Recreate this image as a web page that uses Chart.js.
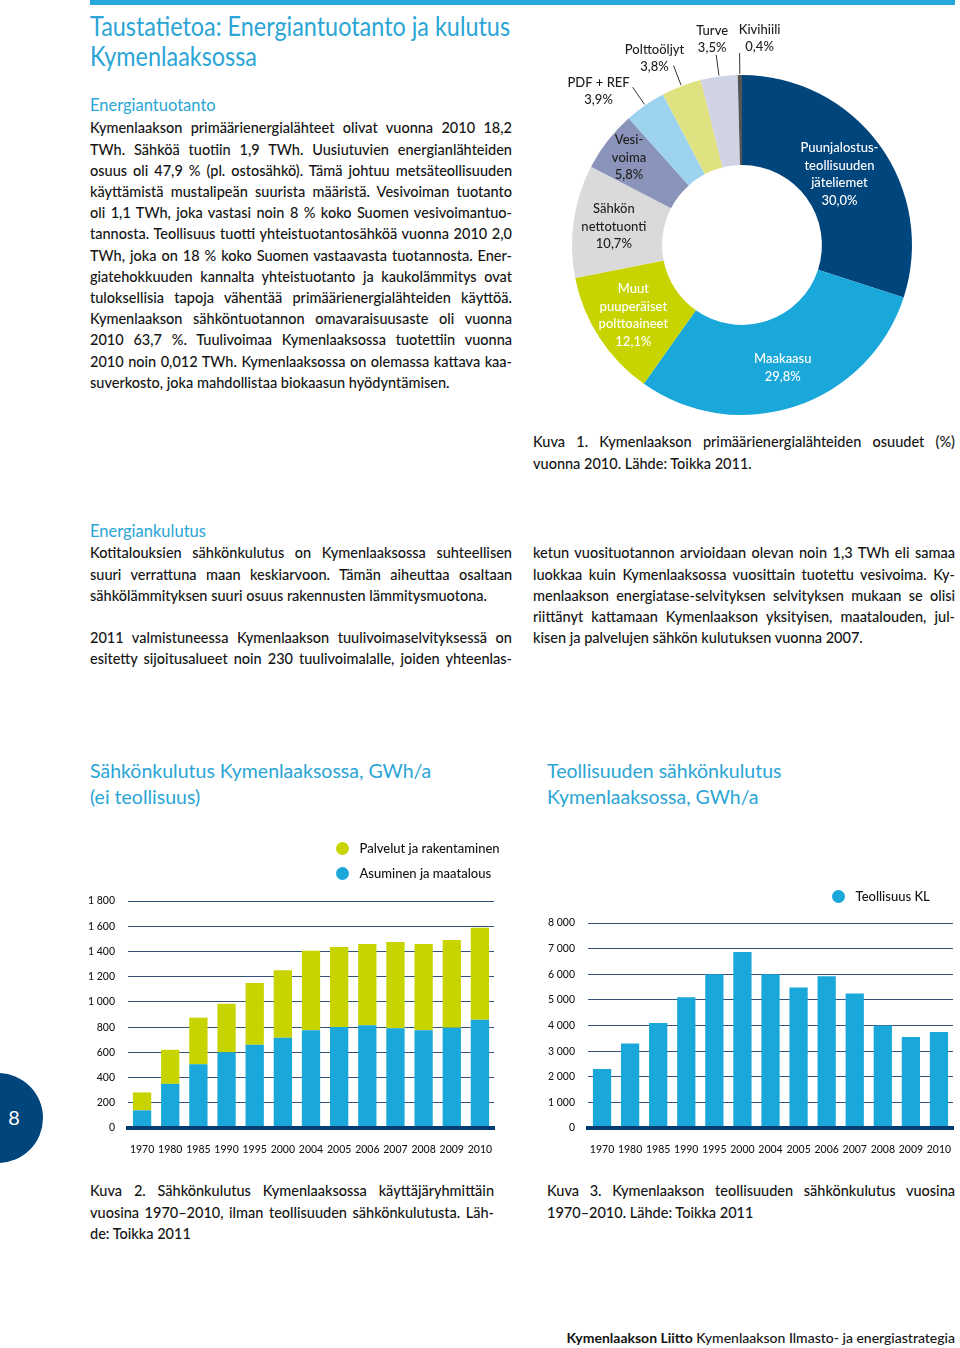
<!DOCTYPE html>
<html>
<head>
<meta charset="utf-8">
<script src="https://cdn.jsdelivr.net/npm/chart.js@4/dist/chart.umd.min.js"></script>
<style>
  body { margin: 0; width: 960px; height: 1348px; position: relative; overflow: hidden; background: #fff;
         font-family: Lato, "Noto Sans", sans-serif; color: #141414; }
  .abs { position: absolute; }
  .cyan { color: #2aa5d5; }
  .blk { position: absolute; font-size: 14.5px; line-height: 21.2px; font-weight: 500; }
  .blk div { text-align: justify; text-align-last: justify; }
  .blk div.l { text-align-last: left; }
  .title { font-size: 26px; line-height: 29.5px; transform: scaleX(0.9); transform-origin: 0 0; white-space: nowrap; }
  .sub { font-size: 16.5px; line-height: 20px; }
  .ctitle { font-size: 19.5px; line-height: 26px; }
  canvas { position: absolute; }
  .legend { position: absolute; font-size: 13px; font-weight: 500; }
  .legend .it { height: 25px; display: flex; align-items: center; }
  .legend .dot { width: 13px; height: 13px; border-radius: 50%; margin-right: 11px; }
</style>
</head>
<body>

<div class="abs" style="left:90px;top:0;width:865px;height:5px;background:#27a8dd"></div>

<div class="abs cyan title" style="left:90px;top:12px">Taustatietoa: Energiantuotanto ja kulutus<br>Kymenlaaksossa</div>

<div class="abs cyan sub" style="left:90px;top:95px">Energiantuotanto</div>
<div class="blk" style="left:90px;top:117.4px;width:422px">
  <div>Kymenlaakson primäärienergialähteet olivat vuonna 2010 18,2</div>
  <div>TWh. Sähköä tuotiin 1,9 TWh. Uusiutuvien energianlähteiden</div>
  <div>osuus oli 47,9 % (pl. ostosähkö). Tämä johtuu metsäteollisuuden</div>
  <div>käyttämistä mustalipeän suurista määristä. Vesivoiman tuotanto</div>
  <div>oli 1,1 TWh, joka vastasi noin 8 % koko Suomen vesivoimantuo-</div>
  <div>tannosta. Teollisuus tuotti yhteistuotantosähköä vuonna 2010 2,0</div>
  <div>TWh, joka on 18 % koko Suomen vastaavasta tuotannosta. Ener-</div>
  <div>giatehokkuuden kannalta yhteistuotanto ja kaukolämmitys ovat</div>
  <div>tuloksellisia tapoja vähentää primäärienergialähteiden käyttöä.</div>
  <div>Kymenlaakson sähköntuotannon omavaraisuusaste oli vuonna</div>
  <div>2010 63,7 %. Tuulivoimaa Kymenlaaksossa tuotettiin vuonna</div>
  <div>2010 noin 0,012 TWh. Kymenlaaksossa on olemassa kattava kaa-</div>
  <div class="l">suverkosto, joka mahdollistaa biokaasun hyödyntämisen.</div>
</div>

<canvas id="donut" width="400" height="420" style="left:560px;top:0"></canvas>

<div class="blk" style="left:533px;top:431.4px;width:422px">
  <div>Kuva 1. Kymenlaakson primäärienergialähteiden osuudet (%)</div>
  <div class="l">vuonna 2010. Lähde: Toikka 2011.</div>
</div>

<div class="abs cyan sub" style="left:90px;top:521px">Energiankulutus</div>
<div class="blk" style="left:90px;top:542.4px;width:422px">
  <div>Kotitalouksien sähkönkulutus on Kymenlaaksossa suhteellisen</div>
  <div>suuri verrattuna maan keskiarvoon. Tämän aiheuttaa osaltaan</div>
  <div class="l">sähkölämmityksen suuri osuus rakennusten lämmitysmuotona.</div>
  <div class="l">&nbsp;</div>
  <div>2011 valmistuneessa Kymenlaakson tuulivoimaselvityksessä on</div>
  <div>esitetty sijoitusalueet noin 230 tuulivoimalalle, joiden yhteenlas-</div>
</div>
<div class="blk" style="left:533px;top:542.4px;width:422px">
  <div>ketun vuosituotannon arvioidaan olevan noin 1,3 TWh eli samaa</div>
  <div>luokkaa kuin Kymenlaaksossa vuosittain tuotettu vesivoima. Ky-</div>
  <div>menlaakson energiatase-selvityksen selvityksen mukaan se olisi</div>
  <div>riittänyt kattamaan Kymenlaakson yksityisen, maatalouden, jul-</div>
  <div class="l">kisen ja palvelujen sähkön kulutuksen vuonna 2007.</div>
</div>

<div class="abs cyan ctitle" style="left:90px;top:758px">Sähkönkulutus Kymenlaaksossa, GWh/a<br>(ei teollisuus)</div>
<div class="abs cyan ctitle" style="left:547px;top:758px">Teollisuuden sähkönkulutus<br>Kymenlaaksossa, GWh/a</div>

<canvas id="homes" width="420" height="280" style="left:80px;top:880px"></canvas>
<canvas id="industry" width="420" height="280" style="left:540px;top:880px"></canvas>
<div class="legend" id="legend2" style="left:335.5px;top:835.5px"></div>
<div class="legend" id="legend3" style="left:831.5px;top:883.5px"></div>

<div class="abs" style="left:-47px;top:1073px;width:90px;height:90px;border-radius:50%;background:#00457c"></div>
<div class="abs" style="left:0;top:1104px;width:28px;text-align:center;color:#fff;font-size:20px;line-height:26px">8</div>

<div class="blk" style="left:90px;top:1180.4px;width:404px">
  <div>Kuva 2. Sähkönkulutus Kymenlaaksossa käyttäjäryhmittäin</div>
  <div>vuosina 1970–2010, ilman teollisuuden sähkönkulutusta. Läh-</div>
  <div class="l">de: Toikka 2011</div>
</div>
<div class="blk" style="left:547px;top:1180.4px;width:408px">
  <div>Kuva 3. Kymenlaakson teollisuuden sähkönkulutus vuosina</div>
  <div class="l">1970–2010. Lähde: Toikka 2011</div>
</div>

<div class="abs" style="right:5px;top:1329px;font-size:14px;line-height:18px;font-weight:500"><b>Kymenlaakson Liitto</b> Kymenlaakson Ilmasto- ja energiastrategia</div>

<script>
// donut: primary energy sources 2010, %
const sources = ['Puunjalostusteollisuuden jäteliemet', 'Maakaasu', 'Muut puuperäiset polttoaineet',
  'Sähkön nettotuonti', 'Vesivoima', 'PDF + REF', 'Polttoöljyt', 'Turve', 'Kivihiili']
const shares = [30.0, 29.8, 12.1, 10.7, 5.8, 3.9, 3.8, 3.5, 0.4]
const sliceLabelLines = [
  ['Puunjalostus-', 'teollisuuden', 'jäteliemet'], ['Maakaasu'], ['Muut', 'puuperäiset', 'polttoaineet'],
  ['Sähkön', 'nettotuonti'], ['Vesi-', 'voima'], ['PDF + REF'], ['Polttoöljyt'], ['Turve'], ['Kivihiili']
]

// bar charts: GWh/a
const years = ['1970', '1980', '1985', '1990', '1995', '2000', '2004', '2005', '2006', '2007', '2008', '2009', '2010']
const asuminen = [140, 350, 505, 600, 660, 715, 775, 800, 815, 790, 775, 795, 858]
const palvelut = [142, 270, 370, 385, 490, 535, 630, 635, 645, 685, 685, 695, 730]
const teollisuus = [2300, 3300, 4100, 5100, 6000, 6870, 6000, 5480, 5920, 5250, 4000, 3550, 3750]

const sliceColors = ['#00457c', '#1aa7da', '#c8d400', '#dadada', '#8a93b9', '#9dd3ef', '#e0e282', '#cfd3e4', '#555555']
const CYAN = '#1aa7da', LIME = '#c8d400'

// label placement: inside -> fraction across ring; outside -> leader + offset
const labelPlacement = [
  {inside: true, f: 0.45, color: '#fff'},
  {inside: true, f: 0.55, color: '#fff'},
  {inside: true, f: 0.55, color: '#fff'},
  {inside: true, f: 0.55, color: '#1d1d1b'},
  {inside: true, f: 0.7, color: '#1d1d1b'},
  {inside: false, dx: -34, dy: -4, color: '#1d1d1b'},
  {inside: false, dx: -19, dy: -16, color: '#1d1d1b'},
  {inside: false, dx: -4, dy: -24, color: '#1d1d1b'},
  {inside: false, dx: 20, dy: -23, color: '#1d1d1b'}
]

const fmtPct = v => v.toFixed(1).replace('.', ',') + '%'
const fmtNum = v => String(v).replace(/\B(?=(\d{3})+(?!\d))/g, ' ')

const sliceLabels = {
  id: 'sliceLabels',
  afterDatasetsDraw(chart) {
    const ctx = chart.ctx
    const arcs = chart.getDatasetMeta(0).data
    ctx.save()
    ctx.font = '500 13px Lato, "Noto Sans", sans-serif'
    ctx.textAlign = 'center'
    ctx.textBaseline = 'middle'
    arcs.forEach((arc, i) => {
      const a = arc.getProps(['x', 'y', 'startAngle', 'endAngle', 'innerRadius', 'outerRadius'], true)
      const mid = (a.startAngle + a.endAngle) / 2
      const p = labelPlacement[i]
      const lines = [...sliceLabelLines[i], fmtPct(shares[i])]
      ctx.fillStyle = p.color
      if (p.inside) {
        const r = a.innerRadius + (a.outerRadius - a.innerRadius) * p.f
        const cx = a.x + Math.cos(mid) * r, cy = a.y + Math.sin(mid) * r
        lines.forEach((t, k) => ctx.fillText(t, cx, cy + (k - (lines.length - 1) / 2) * 17.5))
      } else {
        const r0 = a.outerRadius + 1, r1 = a.outerRadius + 22
        const ex = a.x + Math.cos(mid) * r1, ey = a.y + Math.sin(mid) * r1
        ctx.strokeStyle = '#333'
        ctx.lineWidth = 1
        ctx.beginPath()
        ctx.moveTo(a.x + Math.cos(mid) * r0, a.y + Math.sin(mid) * r0)
        ctx.lineTo(ex, ey)
        ctx.stroke()
        lines.forEach((t, k) => ctx.fillText(t, ex + p.dx, ey + p.dy + k * 17))
      }
    })
    ctx.restore()
  }
}

new Chart(document.getElementById('donut'), {
  type: 'doughnut',
  data: { labels: sources, datasets: [{ data: shares, backgroundColor: sliceColors, borderWidth: 0 }] },
  options: {
    responsive: false, animation: false, cutout: '47%',
    layout: { padding: { left: 12, right: 48, top: 75, bottom: 5 } },
    plugins: { legend: { display: false }, tooltip: { enabled: false } }
  },
  plugins: [sliceLabels]
})

function barOptions(max, step, padTop, padRight, stacked) {
  const tickFont = { size: 10.5, family: 'Lato', weight: 500 }
  return {
    responsive: false, animation: false,
    layout: { padding: { top: padTop, right: padRight, left: 0, bottom: 0 } },
    plugins: { legend: { display: false }, tooltip: { enabled: false } },
    scales: {
      x: {
        stacked: stacked,
        grid: { display: false },
        border: { display: true, color: '#003b71', width: 4, z: 1 },
        ticks: { padding: 7, color: '#141414', font: tickFont, maxRotation: 0, autoSkip: false },
        afterFit(s) { s.height = 32 }
      },
      y: {
        stacked: stacked, min: 0, max: max,
        grid: { color: '#34527a', lineWidth: 1, drawTicks: false },
        border: { display: false },
        ticks: { stepSize: step, padding: 13, color: '#141414', font: tickFont, callback: v => fmtNum(v) },
        afterFit(s) { s.width = 48 }
      }
    }
  }
}

const homes = new Chart(document.getElementById('homes'), {
  type: 'bar',
  data: {
    labels: years,
    datasets: [
      { label: 'Asuminen ja maatalous', data: asuminen, backgroundColor: CYAN, barPercentage: 0.65, categoryPercentage: 1 },
      { label: 'Palvelut ja rakentaminen', data: palvelut, backgroundColor: LIME, barPercentage: 0.65, categoryPercentage: 1 }
    ]
  },
  options: barOptions(1800, 200, 21, 6, true)
})

const industry = new Chart(document.getElementById('industry'), {
  type: 'bar',
  data: {
    labels: years,
    datasets: [
      { label: 'Teollisuus KL', data: teollisuus, backgroundColor: CYAN, barPercentage: 0.65, categoryPercentage: 1 }
    ]
  },
  options: barOptions(8000, 1000, 43, 7, false)
})

function htmlLegend(chart, el, reverse) {
  let ds = chart.data.datasets.slice()
  if (reverse) ds.reverse()
  el.innerHTML = ds.map(d =>
    `<div class="it"><span class="dot" style="background:${d.backgroundColor}"></span>${d.label}</div>`).join('')
}
htmlLegend(homes, document.getElementById('legend2'), true)
htmlLegend(industry, document.getElementById('legend3'), false)
</script>
</body>
</html>
